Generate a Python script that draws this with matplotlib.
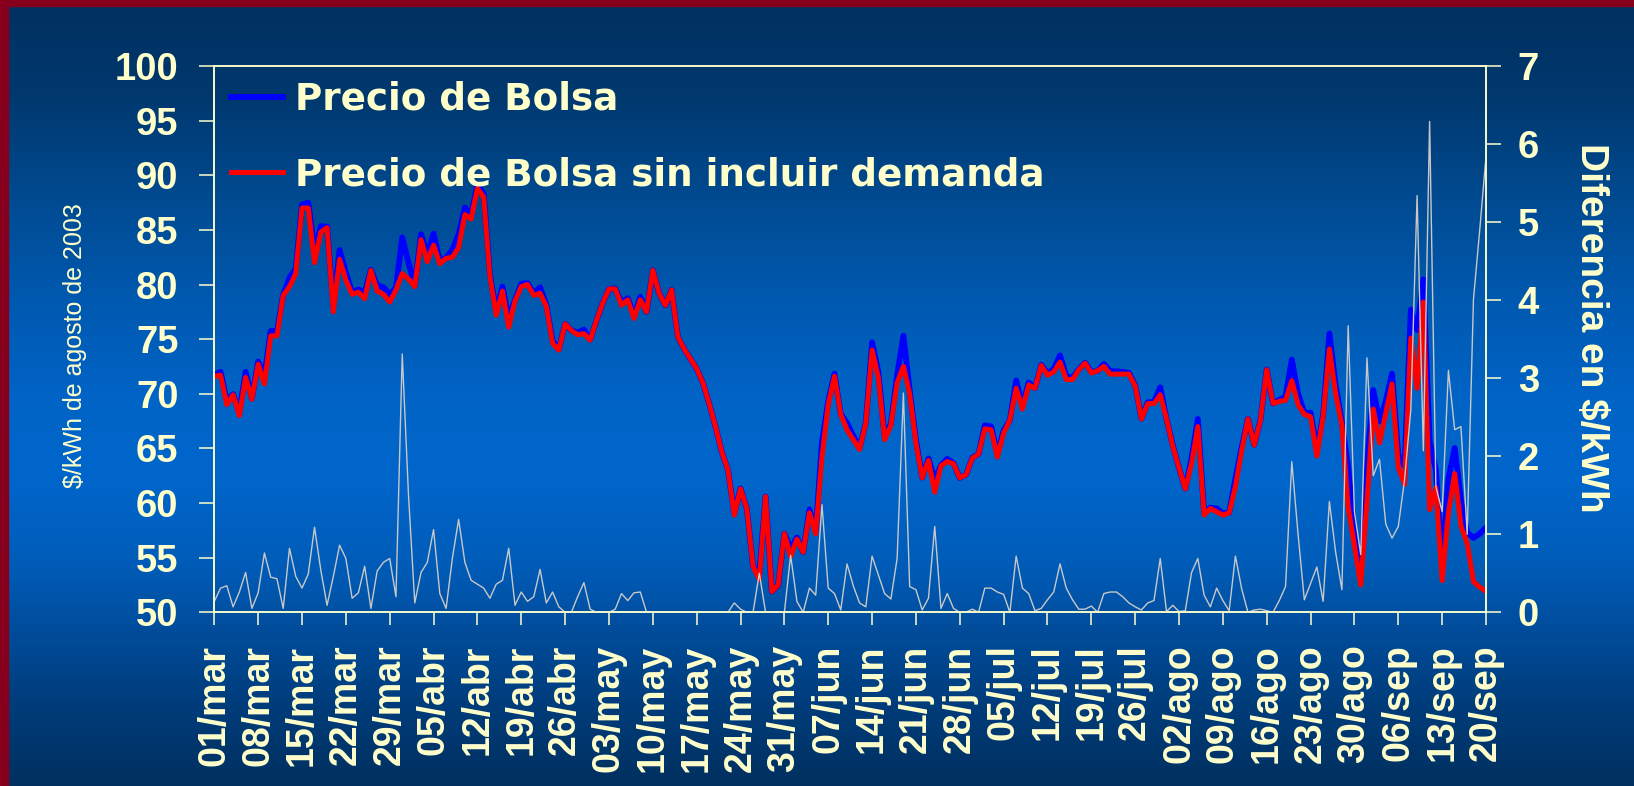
import numpy as np
import pandas as pd
import matplotlib

matplotlib.use("Agg")
import matplotlib.pyplot as plt
from matplotlib.patches import Rectangle

plt.rcParams["font.family"] = ["Liberation Sans", "DejaVu Sans"]
plt.rcParams["font.weight"] = "bold"

CREMA = "#ffffcc"

# un dato por dia, del 01/mar al 20/sep de 2003
fechas = pd.date_range("2003-03-01", "2003-09-20", freq="D")
meses = {3: "mar", 4: "abr", 5: "may", 6: "jun", 7: "jul", 8: "ago", 9: "sep"}

precio_bolsa = [
    71.74, 72.01, 69.34, 69.97, 68.26, 72.01, 69.55, 72.95, 71.66, 75.75,
    75.73, 79.05, 80.62, 81.46, 87.31, 87.49, 83.09, 85.34, 85.29, 77.96,
    83.16, 81.09, 79.28, 79.55, 79.29, 81.35, 79.93, 79.74, 79.09, 79.70,
    84.31, 82.00, 79.92, 84.61, 82.74, 84.66, 82.14, 82.45, 83.19, 84.59,
    87.04, 86.41, 89.16, 88.31, 80.88, 77.56, 79.81, 76.92, 78.59, 80.06,
    80.14, 79.20, 79.75, 78.12, 74.86, 74.07, 76.40, 75.80, 75.60, 75.88,
    74.94, 76.70, 78.30, 79.60, 79.64, 78.34, 78.75, 77.15, 78.86, 77.50,
    81.30, 79.20, 78.10, 79.50, 75.20, 74.10, 73.20, 72.30, 71.00, 69.10,
    67.00, 64.70, 63.00, 59.02, 61.34, 59.50, 54.20, 53.50, 60.60, 51.90,
    52.50, 57.20, 55.83, 56.84, 55.50, 59.41, 57.42, 65.58, 69.31, 71.84,
    68.13, 67.32, 66.14, 65.02, 67.37, 74.72, 71.98, 66.04, 67.27, 71.69,
    75.31, 70.33, 65.79, 62.33, 64.08, 62.10, 63.45, 64.04, 63.65, 62.30,
    62.60, 64.14, 64.50, 67.11, 67.01, 64.46, 66.63, 67.60, 71.22, 68.91,
    71.04, 70.52, 72.65, 71.86, 72.26, 73.52, 71.61, 71.46, 72.24, 72.84,
    71.98, 72.10, 72.74, 72.06, 72.06, 72.00, 71.92, 70.77, 67.73, 69.22,
    69.25, 70.59, 67.71, 65.29, 63.21, 61.32, 64.11, 67.69, 59.12, 59.57,
    59.51, 59.05, 59.12, 62.22, 65.10, 67.70, 65.33, 67.64, 72.22, 69.10,
    69.45, 69.73, 73.13, 70.00, 68.26, 68.27, 64.88, 68.04, 75.52, 70.77,
    67.39, 63.27, 57.39, 53.24, 63.36, 70.35, 67.46, 69.33, 71.85, 64.40,
    63.40, 77.70, 75.84, 80.47, 65.69, 63.01, 54.19, 62.20, 65.04, 60.28,
    57.30, 56.81, 57.20, 57.74,
]

precio_sin_demanda = [
    71.6, 71.7, 69.0, 69.9, 68.0, 71.5, 69.5, 72.7, 70.9, 75.3,
    75.3, 79.0, 79.8, 81.0, 87.0, 87.0, 82.0, 84.8, 85.2, 77.5,
    82.3, 80.4, 79.1, 79.3, 78.7, 81.3, 79.4, 79.1, 78.4, 79.5,
    81.0, 80.5, 79.8, 84.1, 82.1, 83.6, 81.9, 82.4, 82.5, 83.4,
    86.4, 86.0, 88.8, 88.0, 80.7, 77.2, 79.4, 76.1, 78.5, 79.8,
    80.0, 79.0, 79.2, 78.0, 74.6, 74.0, 76.4, 75.8, 75.4, 75.5,
    74.9, 76.7, 78.3, 79.6, 79.6, 78.1, 78.6, 76.9, 78.6, 77.5,
    81.3, 79.2, 78.1, 79.5, 75.2, 74.1, 73.2, 72.3, 71.0, 69.1,
    67.0, 64.7, 63.0, 58.9, 61.3, 59.5, 54.2, 53.0, 60.6, 51.9,
    52.5, 57.2, 55.1, 56.7, 55.5, 59.1, 57.2, 64.2, 69.0, 71.6,
    68.1, 66.7, 65.8, 64.9, 67.3, 74.0, 71.5, 65.8, 67.1, 71.0,
    72.5, 70.0, 65.5, 62.3, 63.9, 61.0, 63.4, 63.8, 63.6, 62.3,
    62.6, 64.1, 64.5, 66.8, 66.7, 64.2, 66.4, 67.6, 70.5, 68.6,
    70.8, 70.5, 72.6, 71.7, 72.0, 72.9, 71.3, 71.3, 72.2, 72.8,
    71.9, 72.1, 72.5, 71.8, 71.8, 71.8, 71.8, 70.7, 67.7, 69.1,
    69.1, 69.9, 67.7, 65.2, 63.2, 61.3, 63.6, 67.0, 58.9, 59.5,
    59.2, 58.9, 59.1, 61.5, 64.8, 67.7, 65.3, 67.6, 72.2, 69.1,
    69.3, 69.4, 71.2, 69.0, 68.1, 67.9, 64.3, 67.9, 74.1, 70.0,
    67.1, 59.6, 56.1, 52.5, 60.1, 68.6, 65.5, 68.2, 70.9, 63.3,
    61.7, 75.1, 70.5, 78.4, 59.4, 61.4, 52.9, 59.1, 62.7, 57.9,
    56.3, 52.8, 52.3, 51.9,
]

# diferencia en $/kWh (eje derecho)
diferencia = [
    0.14, 0.31, 0.34, 0.07, 0.26, 0.51, 0.05, 0.25, 0.76, 0.45,
    0.43, 0.05, 0.82, 0.46, 0.31, 0.49, 1.09, 0.54, 0.09, 0.46,
    0.86, 0.69, 0.18, 0.25, 0.59, 0.05, 0.53, 0.64, 0.69, 0.20,
    3.31, 1.50, 0.12, 0.51, 0.64, 1.06, 0.24, 0.05, 0.69, 1.19,
    0.64, 0.41, 0.36, 0.31, 0.18, 0.36, 0.41, 0.82, 0.09, 0.26,
    0.14, 0.20, 0.55, 0.12, 0.26, 0.07, 0.00, 0.00, 0.20, 0.38,
    0.04, 0.00, 0.00, 0.00, 0.04, 0.24, 0.15, 0.25, 0.26, 0.00,
    0.00, 0.00, 0.00, 0.00, 0.00, 0.00, 0.00, 0.00, 0.00, 0.00,
    0.00, 0.00, 0.00, 0.12, 0.04, 0.00, 0.00, 0.50, 0.00, 0.00,
    0.00, 0.00, 0.73, 0.14, 0.00, 0.31, 0.22, 1.38, 0.31, 0.24,
    0.03, 0.62, 0.34, 0.12, 0.07, 0.72, 0.48, 0.24, 0.17, 0.69,
    2.81, 0.33, 0.29, 0.03, 0.18, 1.10, 0.05, 0.24, 0.05, 0.00,
    0.00, 0.04, 0.00, 0.31, 0.31, 0.26, 0.23, 0.00, 0.72, 0.31,
    0.24, 0.02, 0.05, 0.16, 0.26, 0.62, 0.31, 0.16, 0.04, 0.04,
    0.08, 0.00, 0.24, 0.26, 0.26, 0.20, 0.12, 0.07, 0.03, 0.12,
    0.15, 0.69, 0.01, 0.09, 0.01, 0.02, 0.51, 0.69, 0.22, 0.07,
    0.31, 0.15, 0.02, 0.72, 0.30, 0.00, 0.03, 0.04, 0.02, 0.00,
    0.15, 0.33, 1.93, 1.00, 0.16, 0.37, 0.58, 0.14, 1.42, 0.77,
    0.29, 3.67, 1.29, 0.74, 3.26, 1.75, 1.96, 1.13, 0.95, 1.10,
    1.70, 2.60, 5.34, 2.07, 6.29, 1.61, 1.29, 3.10, 2.34, 2.38,
    1.00, 4.01, 4.90, 5.84,
]

x = np.arange(len(fechas))
tick_pos = x[::7]
tick_labels = [f"{d.day:02d}/{meses[d.month]}" for d in fechas[::7]]

W, H = 1634, 786
fig = plt.figure(figsize=(W / 100, H / 100), dpi=100)

# fondo con degradado vertical (oscuro arriba y abajo, claro al centro)
bg = fig.add_axes([0, 0, 1, 1], zorder=-10)
stop_y = [0.0, 0.12, 0.25, 0.38, 0.50, 0.60, 0.72, 0.80, 0.90, 1.0]
stop_c = ["#003060", "#00386e", "#004a90", "#0059b0", "#0063c5", "#0066cc",
          "#005cb8", "#004d9c", "#003c7a", "#00305f"]
rgb = np.array([matplotlib.colors.to_rgb(c) for c in stop_c])
yy = np.linspace(0, 1, 400)
grad = np.stack([np.interp(yy, stop_y, rgb[:, k]) for k in range(3)], axis=-1)[:, None, :]
bg.imshow(grad, aspect="auto", extent=[0, 1, 0, 1], origin="upper")
bg.set_xlim(0, 1)
bg.set_ylim(0, 1)
bg.axis("off")

# borde granate a la izquierda y arriba
fig.add_artist(Rectangle((0, 0), 8 / W, 1, transform=fig.transFigure, color="#86001e", zorder=5))
fig.add_artist(Rectangle((0, 1 - 6 / H), 1, 6 / H, transform=fig.transFigure, color="#86001e", zorder=5))

left, right, top, bottom = 214.3, 1486.0, 66.0, 612.3
ax = fig.add_axes([left / W, 1 - bottom / H, (right - left) / W, (bottom - top) / H])
ax.set_facecolor("none")
ax2 = ax.twinx()

l1, = ax.plot(x, precio_bolsa, color="#0000ff", lw=4.2, solid_joinstyle="round",
              label="Precio de Bolsa")
l2, = ax.plot(x, precio_sin_demanda, color="#ff0000", lw=3.6, solid_joinstyle="round",
              label="Precio de Bolsa sin incluir demanda")
ax2.plot(x, diferencia, color="#c8c8c8", lw=1.0)

ax.set_xlim(0, len(x) - 1)
ax.set_ylim(50, 100)
ax.set_yticks(range(50, 101, 5))
ax.set_xticks(tick_pos, tick_labels)
ax2.set_ylim(0, 7)
ax2.set_yticks(range(0, 8))

for a in (ax, ax2):
    for sp in a.spines.values():
        sp.set_color(CREMA)
        sp.set_linewidth(1.1)
ax.tick_params(axis="y", direction="out", length=10.8, width=1.1, color=CREMA,
               labelcolor=CREMA, labelsize=27.5, pad=15)
ax.tick_params(axis="x", direction="out", length=9.2, width=1.1, color=CREMA,
               labelcolor=CREMA, labelsize=27, pad=14, labelrotation=90)
ax2.tick_params(axis="y", direction="out", length=10.8, width=1.1, color=CREMA,
                labelcolor=CREMA, labelsize=27.5, pad=12)

leg = ax.legend(handles=[l1, l2], loc="upper left", bbox_to_anchor=(0.0134, 0.973),
                frameon=False, borderpad=0, borderaxespad=0, handlelength=1.4,
                handletextpad=0.32, labelspacing=1.04,
                prop={"family": "DejaVu Sans", "weight": "bold", "size": 26.8})
for t in leg.get_texts():
    t.set_color(CREMA)

fig.text(75 / W, 1 - 346 / H, r"\$/kWh de agosto de 2003", rotation=90, ha="center",
         va="center", fontsize=18, fontweight="normal", color=CREMA)
fig.text(1591 / W, 1 - 328 / H, r"Diferencia en \$/kWh", rotation=270, ha="center",
         va="center", fontsize=28, fontweight="bold", color=CREMA)

fig.savefig("out.png", dpi=100)
